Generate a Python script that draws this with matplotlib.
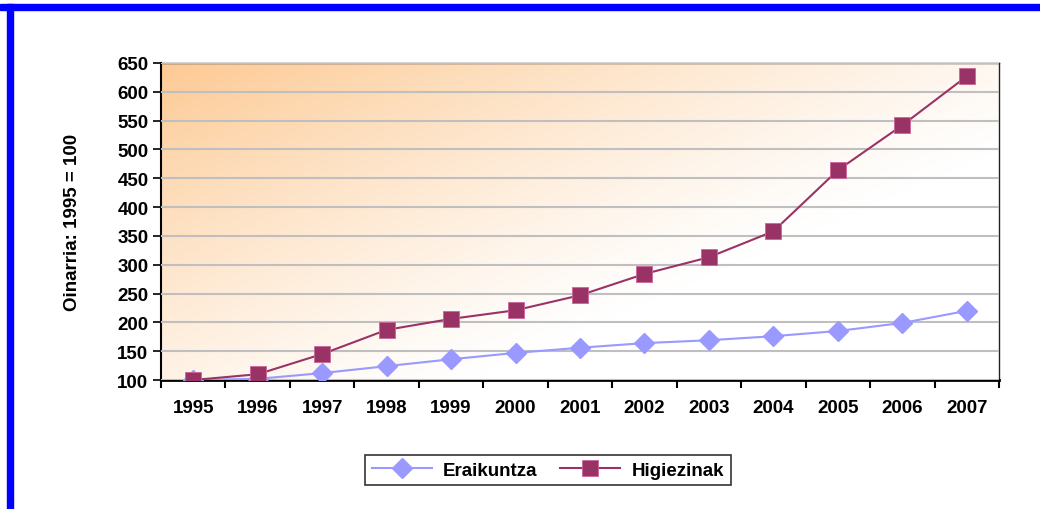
import numpy as np
import matplotlib.pyplot as plt
from matplotlib.colors import LinearSegmentedColormap
from matplotlib.lines import Line2D

urteak = ['1995', '1996', '1997', '1998', '1999', '2000', '2001',
          '2002', '2003', '2004', '2005', '2006', '2007']
eraikuntza = [100, 102, 112, 124, 136, 147, 156, 164, 169, 176, 185, 199, 220]
higiezinak = [100, 110, 145, 187, 206, 221, 247, 284, 313, 358, 464, 542, 627]

plt.rcParams['font.family'] = ['Liberation Sans', 'DejaVu Sans']
plt.rcParams['font.weight'] = 'bold'

fig = plt.figure(figsize=(10.4, 5.1), dpi=100)
ax = fig.add_axes([161 / 1040, 1 - 381 / 510, 838 / 1040, 317 / 510])

# atzeko gradientea (goian ezkerrean laranja, behean eskuinean zuria)
nx, ny = 300, 150
gx = np.linspace(0, 1, nx)
gy = np.linspace(0, 1, ny)
X, Y = np.meshgrid(gx, gy)
t = np.clip(1 - (0.8 * X + 0.7 * (1 - Y)), 0, 1) ** 1.2
cmap = LinearSegmentedColormap.from_list('grad', ['#ffffff', '#fdca94'])
ax.imshow(t, cmap=cmap, aspect='auto', origin='lower',
          extent=[-0.5, 12.5, 100, 650], zorder=0, vmin=0, vmax=1)

x = np.arange(len(urteak))
ax.plot(x, eraikuntza, color='#9999ff', lw=1.5, marker='D', ms=10,
        markeredgecolor='#9999ff', zorder=3)
ax.plot(x, higiezinak, color='#993366', lw=1.5, marker='s', ms=11,
        markeredgecolor='#cc6699', markeredgewidth=0.6, zorder=4)

fs = 13.5
ax.set_xlim(-0.5, 12.5)
ax.set_ylim(100, 650)
ax.set_yticks(range(100, 651, 50))
ax.set_xticks(x)
ax.set_xticklabels(urteak)
ax.set_xticks(np.arange(-0.5, 12.6, 1), minor=True)
ax.tick_params(axis='x', which='major', length=0, pad=14, labelsize=fs)
ax.tick_params(axis='x', which='minor', length=6, width=1.5, direction='out')
ax.tick_params(axis='y', length=6, width=1.2, direction='out', labelsize=fs, pad=3)
ax.yaxis.grid(True, color='#bfbfbf', lw=1.5, zorder=1)
ax.set_axisbelow(False)
for s in ['top', 'right']:
    ax.spines[s].set_color('#222222')
    ax.spines[s].set_linewidth(1)
ax.spines['left'].set_linewidth(1.5)
ax.spines['bottom'].set_linewidth(2)
ax.set_ylabel('Oinarria: 1995 = 100', fontsize=fs, fontweight='bold', labelpad=26)

handles = [Line2D([], [], color='#9999ff', lw=1.5, marker='D', ms=10),
           Line2D([], [], color='#993366', lw=1.5, marker='s', ms=11,
                  markeredgecolor='#cc6699', markeredgewidth=0.6)]
leg = fig.legend(handles, ['Eraikuntza', 'Higiezinak'], loc='center',
                 bbox_to_anchor=(548 / 1040, 1 - 471 / 510), ncol=2,
                 frameon=True, fancybox=False, edgecolor='black',
                 prop={'size': fs, 'weight': 'bold'}, handlelength=3.2,
                 columnspacing=1.2, borderpad=0.35, handletextpad=0.6)
leg.get_frame().set_linewidth(1.2)

# sineko marko urdina
fig.add_artist(plt.Rectangle((0, 1 - 11 / 510), 1, 6 / 510, color='#0000ff',
                             transform=fig.transFigure))
fig.add_artist(plt.Rectangle((7 / 1040, 0), 6 / 1040, 1 - 5 / 510, color='#0000ff',
                             transform=fig.transFigure))

fig.savefig('out.png', dpi=100)
